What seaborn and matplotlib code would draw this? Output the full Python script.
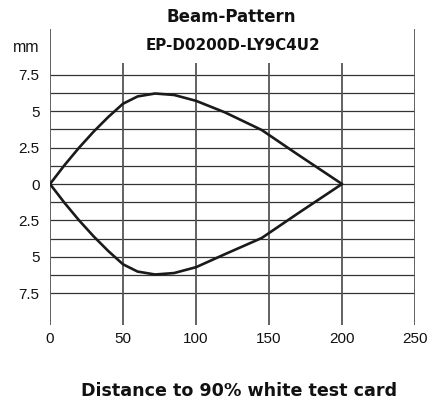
import matplotlib
matplotlib.use("Agg")
import matplotlib.pyplot as plt
import seaborn as sns
import pandas as pd

# beam outline (distance in mm along x, half-width in mm)
upper_x = [0, 10, 20, 30, 40, 50, 60, 72, 85, 100, 120, 145, 170, 200]
upper_y = [0, 1.3, 2.5, 3.6, 4.6, 5.5, 6.0, 6.2, 6.1, 5.7, 4.9, 3.7, 2.0, 0]
lower_x = [0, 10, 20, 30, 40, 50, 60, 72, 85, 100, 120, 145, 170, 200]
lower_y = [0, -1.3, -2.5, -3.6, -4.6, -5.5, -6.0, -6.2, -6.1, -5.7, -4.8, -3.7, -2.0, 0]

x_ticks = [0, 50, 100, 150, 200, 250]
y_ticks = [7.5, 5, 2.5, 0, -2.5, -5, -7.5]
y_tick_labels = ["7.5", "5", "2.5", "0", "2.5", "5", "7.5"]
h_lines = [-7.5, -6.25, -5, -3.75, -2.5, -1.25, 0, 1.25, 2.5, 3.75, 5, 6.25, 7.5]

df = pd.concat([
    pd.DataFrame({"dist": upper_x, "width": upper_y, "side": "upper"}),
    pd.DataFrame({"dist": lower_x, "width": lower_y, "side": "lower"}),
])

sns.set_theme(style="white")
plt.rcParams["font.family"] = ["Liberation Sans", "DejaVu Sans"]

fig = plt.figure(figsize=(4.30, 4.01), dpi=100)
ax = fig.add_axes([50 / 430, 76 / 401, 365 / 430, 296 / 401])

y_lo, y_hi = -9.66, 10.62
ax.set_xlim(0, 250)
ax.set_ylim(y_lo, y_hi)

# grid
ax.hlines(h_lines, 0, 250, color="#333333", lw=0.9, zorder=1)
ax.vlines([0, 250], y_lo, y_hi, color="#555555", lw=1.3, zorder=1)
ax.vlines([50, 100, 150, 200], y_lo, 8.3, color="#555555", lw=1.3, zorder=1)

sns.lineplot(data=df, x="dist", y="width", units="side", estimator=None,
             sort=False, color="#1a1a1a", lw=1.9, ax=ax, zorder=3)

for s in ax.spines.values():
    s.set_visible(False)
ax.set_xticks(x_ticks)
ax.set_xticklabels([str(v) for v in x_ticks])
ax.set_yticks(y_ticks)
ax.set_yticklabels(y_tick_labels)
ax.tick_params(axis="both", length=0, labelsize=11, colors="#111111")
ax.tick_params(axis="x", pad=5)
ax.tick_params(axis="y", pad=7.5)
ax.set_xlabel("")
ax.set_ylabel("")

head = ["DejaVu Sans"]
fig.text(231 / 430, 1 - 22 / 401, "Beam-Pattern", ha="center", va="baseline",
         fontsize=12, fontweight="bold", color="#111111", family=head)
fig.text(232.5 / 430, 1 - 50 / 401, "EP-D0200D-LY9C4U2", ha="center", va="baseline",
         fontsize=10.9, fontweight="bold", color="#111111", family=head)
fig.text(26 / 430, 1 - 51.7 / 401, "mm", ha="center", va="baseline",
         fontsize=11.5, color="#111111")
fig.text(239.5 / 430, 1 - 395.7 / 401, "Distance to 90% white test card", ha="center",
         va="baseline", fontsize=12.6, fontweight="bold", color="#111111", family=head)

fig.savefig("out.png", dpi=100)
